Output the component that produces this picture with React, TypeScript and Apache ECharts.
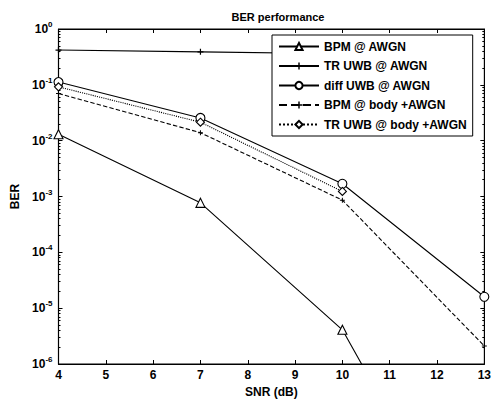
import React, { useEffect, useRef } from "react";
import * as echarts from "echarts";

const snr = [4, 7, 10, 13];
const bpmAwgn = [0.013, 7.7e-4, 4.1e-6, 1.2e-10];
const trUwbAwgn = [0.42, 0.39, 0.36, null];
const diffUwbAwgn = [0.112, 0.0255, 1.69e-3, 1.6e-5];
const bpmBody = [0.07, 0.0139, 8.6e-4, 2.1e-6];
const trUwbBody = [0.092, 0.0214, 1.23e-3, null];

const seriesNames = [
  "BPM @ AWGN",
  "TR UWB @ AWGN",
  "diff UWB @ AWGN",
  "BPM @ body +AWGN",
  "TR UWB @ body +AWGN",
];

const FONT = "Liberation Sans, Arial, Helvetica, sans-serif";
const PLUS = "path://M4,0H6V4H10V6H6V10H4V6H0V4H4Z";

function pairs(vals: (number | null)[]) {
  return snr.map((x, i) => [x, vals[i]]);
}

export default function App() {
  const ref = useRef<HTMLDivElement>(null);
  useEffect(() => {
    if (!ref.current) return;
    const chart = echarts.init(ref.current, null, { renderer: "svg" });
    const mk = (
      name: string,
      vals: (number | null)[],
      symbol: string,
      size: number,
      type: any,
      filled: boolean
    ) => ({
      name,
      type: "line",
      data: pairs(vals),
      symbol,
      symbolSize: size,
      showSymbol: true,
      clip: true,
      connectNulls: false,
      lineStyle: { color: "#000", width: 1.1, type },
      itemStyle: {
        color: filled ? "#000" : "#fff",
        borderColor: "#000",
        borderWidth: filled ? 0 : 1.1,
      },
      emphasis: { disabled: true },
      xAxisIndex: 0,
      yAxisIndex: 0,
    });
    const yLabel = (v: number) => {
      const e = Math.round(Math.log10(v));
      return `{b|10}{s|${e}}`;
    };
    chart.setOption({
      animation: false,
      backgroundColor: "#fff",
      title: {
        text: "BER performance",
        left: 273,
        textAlign: "center",
        top: 6,
        textStyle: { fontFamily: FONT, fontSize: 11, fontWeight: "bold", color: "#000" },
      },
      grid: {
        left: 58.5,
        right: 6,
        top: 29,
        bottom: 35,
        show: true,
        borderColor: "#000",
        borderWidth: 1,
        backgroundColor: "#fff",
      },
      legend: {
        orient: "vertical",
        left: 272,
        top: 35,
        padding: [5, 6, 5, 6],
        itemGap: 6.5,
        itemWidth: 40,
        itemHeight: 9,
        backgroundColor: "#fff",
        borderColor: "#000",
        borderWidth: 1,
        borderRadius: 0,
        data: seriesNames,
        textStyle: { fontFamily: FONT, fontSize: 12, fontWeight: "bold", color: "#000", lineHeight: 13 },
      },
      xAxis: [
        {
          type: "value",
          min: 4,
          max: 13,
          interval: 1,
          name: "SNR (dB)",
          nameLocation: "middle",
          nameGap: 22,
          nameTextStyle: { fontFamily: FONT, fontSize: 12, fontWeight: "bold", color: "#000" },
          axisLine: { lineStyle: { color: "#000", width: 1.2 } },
          axisTick: { inside: true, length: 4, lineStyle: { color: "#000" } },
          axisLabel: { fontFamily: FONT, fontSize: 12, fontWeight: "bold", color: "#000", margin: 5 },
          splitLine: { show: false },
        },
        {
          type: "value",
          position: "top",
          min: 4,
          max: 13,
          interval: 1,
          axisLine: { lineStyle: { color: "#000", width: 1 } },
          axisTick: { inside: true, length: 4, lineStyle: { color: "#000" } },
          axisLabel: { show: false },
          splitLine: { show: false },
        },
      ],
      yAxis: [
        {
          type: "log",
          logBase: 10,
          min: 1e-6,
          max: 1,
          name: "BER",
          nameLocation: "middle",
          nameGap: 36,
          nameRotate: 90,
          nameTextStyle: { fontFamily: FONT, fontSize: 12, fontWeight: "bold", color: "#000" },
          axisLine: { show: true, lineStyle: { color: "#000", width: 1.2 } },
          axisTick: { inside: true, length: 4, lineStyle: { color: "#000" } },
          minorTick: { show: true, splitNumber: 9, length: 2, lineStyle: { color: "#000" } },
          axisLabel: {
            formatter: yLabel,
            margin: 6,
            rich: {
              b: { fontFamily: FONT, fontSize: 12, fontWeight: "bold", color: "#000" },
              s: {
                fontFamily: FONT,
                fontSize: 8,
                fontWeight: "bold",
                color: "#000",
                padding: [0, 0, 9, 0],
              },
            },
          },
          splitLine: { show: false },
        },
        {
          type: "log",
          logBase: 10,
          position: "right",
          min: 1e-6,
          max: 1,
          axisLine: { show: true, lineStyle: { color: "#000", width: 1 } },
          axisTick: { inside: true, length: 4, lineStyle: { color: "#000" } },
          minorTick: { show: true, splitNumber: 9, length: 2, lineStyle: { color: "#000" } },
          axisLabel: { show: false },
          splitLine: { show: false },
        },
      ],
      series: [
        mk(seriesNames[0], bpmAwgn, "triangle", 9, "solid", false),
        mk(seriesNames[1], trUwbAwgn, PLUS, 6, "solid", true),
        mk(seriesNames[2], diffUwbAwgn, "circle", 9, "solid", false),
        mk(seriesNames[3], bpmBody, PLUS, 5, "dashed", true),
        mk(seriesNames[4], trUwbBody, "diamond", 8, "dotted", false),
      ],
    });
    return () => chart.dispose();
  }, []);
  return <div ref={ref} style={{ width: 494, height: 403, position: "absolute", left: 0, top: 0 }} />;
}
